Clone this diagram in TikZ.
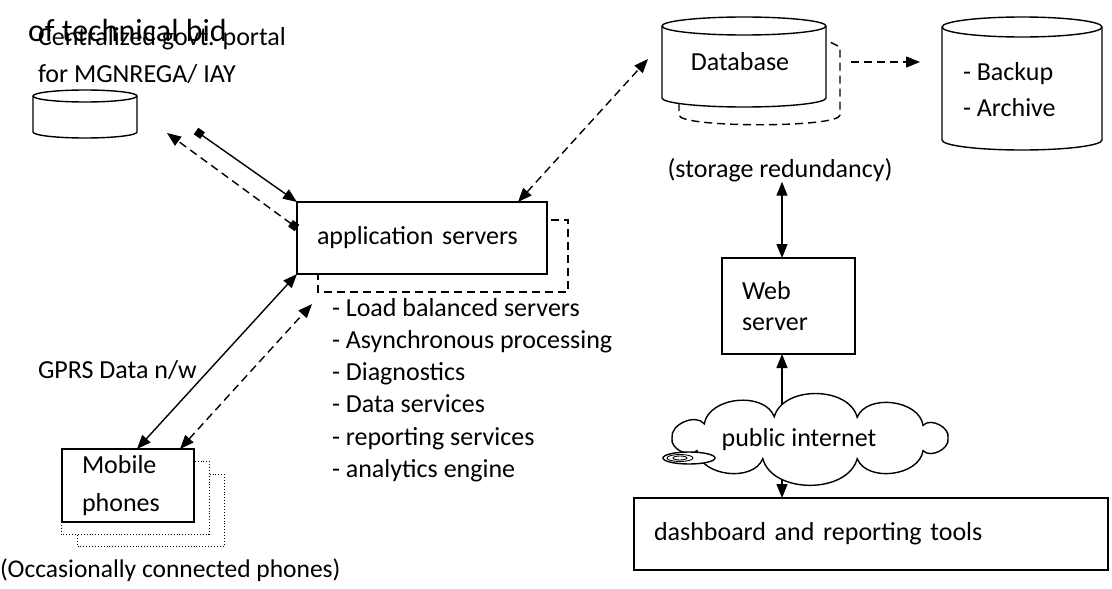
\documentclass[tikz,border=0pt]{standalone}
\usepackage{fontspec}
\setmainfont{Carlito}
\usetikzlibrary{shapes.geometric,arrows.meta,calc}
\begin{document}
\begin{tikzpicture}[x=1pt,y=-1pt,
  line width=1.4pt,
  every node/.style={font=\fontsize{26}{32}\selectfont, inner sep=0pt, outer sep=0pt},
  box/.style={draw, fill=white, align=left, inner xsep=20pt},
  link/.style={{Triangle[length=14pt,width=11pt]}-{Triangle[length=14pt,width=11pt]}},
  oneway/.style={-{Triangle[length=14pt,width=11pt]}},
  sqlink/.style={{Square[length=8pt,width=8pt]}-{Triangle[length=14pt,width=11pt]}},
  dashline/.style={dash pattern=on 8pt off 5pt},
  dotline/.style={line width=0.9pt, dotted}
]
\useasboundingbox (0,0) rectangle (1112,589);
\coordinate (spine) at (782,0);
% portal
\node[anchor=west, font=\fontsize{32}{38}\selectfont] (bidnote) at (28,31) {of technical bid};
\node[anchor=west, align=left, font=\fontsize{26}{37}\selectfont] (portaltxt) at (38,56) {Centralized govt. portal\\for MGNREGA/ IAY};
\draw[fill=white] (33,96) -- (33,132) arc[start angle=180, end angle=360, x radius=52pt, y radius=6pt]
  -- (137,96) arc[start angle=0, end angle=180, x radius=52pt, y radius=6pt] -- cycle;
\draw (33,96) arc[start angle=180, end angle=360, x radius=52pt, y radius=6pt];
\node (portal) at (85,114) {};
% application servers
\draw[dashline] (318,220) rectangle (568,292);
\node[box, minimum width=250, minimum height=72, text width=210] (app) at (422,238) {application servers};
\node[anchor=west, align=left, font=\fontsize{26}{32.3}\selectfont] (features) at (332,390)
  {- Load balanced servers\\- Asynchronous processing\\- Diagnostics\\- Data services\\- reporting services\\- analytics engine};
% mobile phones
\draw[dotline, fill=white] (77,474) rectangle (224,546);
\draw[dotline, fill=white] (61,461) rectangle (209,534);
\node[box, minimum width=132, minimum height=73, text width=92, font=\fontsize{26}{38}\selectfont] (mobile) at (128,485.5) {Mobile\\phones};
\node[anchor=west, font=\fontsize{25.5}{32}\selectfont] (mobnote) at (0,570) {(Occasionally connected phones)};
\node[anchor=west] (gprs) at (38,370) {GPRS Data n/w};
% database and backup
\draw[dashline] (679,103) -- (679,115) .. controls (679,128) and (840,128) .. (840,115) -- (840,47) -- (826,40);
\draw[fill=white] (662,26) -- (662,98) arc[start angle=180, end angle=360, x radius=82pt, y radius=9pt]
  -- (826,26) arc[start angle=0, end angle=180, x radius=82pt, y radius=9pt] -- cycle;
\draw (662,26) arc[start angle=180, end angle=360, x radius=82pt, y radius=9pt];
\node (db) at (740,62) {Database};
\draw[fill=white] (942,27) -- (942,140) arc[start angle=180, end angle=360, x radius=80pt, y radius=10pt]
  -- (1102,27) arc[start angle=0, end angle=180, x radius=80pt, y radius=10pt] -- cycle;
\draw (942,27) arc[start angle=180, end angle=360, x radius=80pt, y radius=10pt];
\node[anchor=west, align=left, font=\fontsize{26}{36}\selectfont] (backup) at (963,90) {- Backup\\- Archive};
\node (redund) at (780,170) {(storage redundancy)};
% web side
\node[box, minimum width=133, minimum height=96, text width=93, font=\fontsize{26}{31}\selectfont] (web) at (788.5,306) {Web\\server};
\node[minimum width=276, minimum height=44] (net) at (810,438) {};
\node[box, minimum width=474, minimum height=72, text width=434] (dash) at (871,534) {dashboard and reporting tools};
\draw[oneway] (spine |- net.center) -- (spine |- web.south);
\draw[oneway] (spine |- net.center) -- (spine |- dash.north);
\draw[fill=white] ($(net.center)+(0:138pt and 22pt)$)
  \foreach \a in {35,70,105,140,180,215,250,290,325,360} { to[bend right=75] ($(net.center)+(\a:138pt and 22pt)$) } -- cycle;
\node (nettxt) at (799,440) {public internet};
\draw[fill=white] (689,458) ellipse [x radius=26pt, y radius=6pt];
\draw[line width=0.9pt] (680,458) ellipse [x radius=13pt, y radius=3.5pt];
\draw[line width=0.9pt] (680,458) ellipse [x radius=7pt, y radius=2pt];
% connectors
\coordinate (portalend) at (196,131);
\coordinate (portaltip) at (167,133);
\coordinate (apptip) at (312,304);
\coordinate (dbtip) at (648,59);
\draw[sqlink] (portalend) -- (app.north west);
\draw[sqlink, dashline] ([yshift=10pt]app.west) -- (portaltip);
\draw[link] (app.south west) -- ([xshift=9pt]mobile.north);
\draw[link, dashline] ([xshift=52pt]mobile.north) -- (apptip);
\draw[link, dashline] ([xshift=96pt]app.north) -- (dbtip);
\draw[oneway, dashline] ([xshift=111pt]db.center) -- ++(69,0);
\draw[link] (spine |- redund.south) -- (spine |- web.north);
\end{tikzpicture}
\end{document}
